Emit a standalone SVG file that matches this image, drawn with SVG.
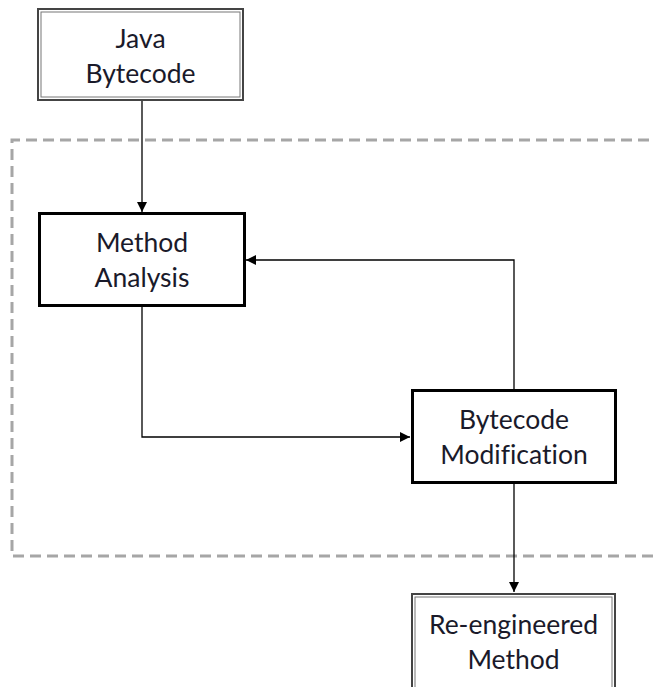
<svg xmlns="http://www.w3.org/2000/svg" width="655" height="687" viewBox="0 0 655 687">
<style>
.t{font-family:Lato,"Open Sans","Liberation Sans",sans-serif;font-size:26.5px;fill:#1a1a2a;text-anchor:middle;font-variant-ligatures:none}
.dbl-o{fill:#fff;stroke:#444;stroke-width:2}
.dbl-i{fill:none;stroke:#777;stroke-width:1}
.thick{fill:#fff;stroke:#000;stroke-width:3}
.c{fill:none;stroke:#000;stroke-width:1.3}
</style>
<defs>
<marker id="ah" viewBox="0 0 10 10" refX="10" refY="5" markerWidth="10" markerHeight="10" markerUnits="userSpaceOnUse" orient="auto">
<path d="M0,0 L10,5 L0,10 z" fill="#000"/>
</marker>
</defs>
<rect width="655" height="687" fill="#fff"/>
<path id="boundary" d="M700,140 H12 V556 H700" fill="none" stroke="#a6a6a6" stroke-width="3" stroke-dasharray="11,6"/>
<g id="connectors">
<path class="c" d="M142,101 V212" marker-end="url(#ah)"/>
<path class="c" d="M142,307 V437 H410" marker-end="url(#ah)"/>
<path class="c" d="M514,389 V260 H246" marker-end="url(#ah)"/>
<path class="c" d="M514,484 V592" marker-end="url(#ah)"/>
</g>
<g id="java">
<rect class="dbl-o" x="38" y="9" width="205" height="91"/>
<rect class="dbl-i" x="41" y="12" width="199" height="85"/>
<text class="t" x="140.5" y="48">Java</text>
<text class="t" x="140.5" y="83">Bytecode</text>
</g>
<g id="analysis">
<rect class="thick" x="39.5" y="213.5" width="205" height="92"/>
<text class="t" x="142" y="252">Method</text>
<text class="t" x="142" y="287">Analysis</text>
</g>
<g id="modification">
<rect class="thick" x="412.5" y="390.5" width="203" height="92"/>
<text class="t" x="514" y="429">Bytecode</text>
<text class="t" x="514" y="464">Modification</text>
</g>
<g id="reengineered">
<rect class="dbl-o" x="412" y="594" width="203" height="97"/>
<rect class="dbl-i" x="415" y="597" width="197" height="91"/>
<text class="t" x="513.5" y="634">Re-engineered</text>
<text class="t" x="513.5" y="669">Method</text>
</g>
</svg>
